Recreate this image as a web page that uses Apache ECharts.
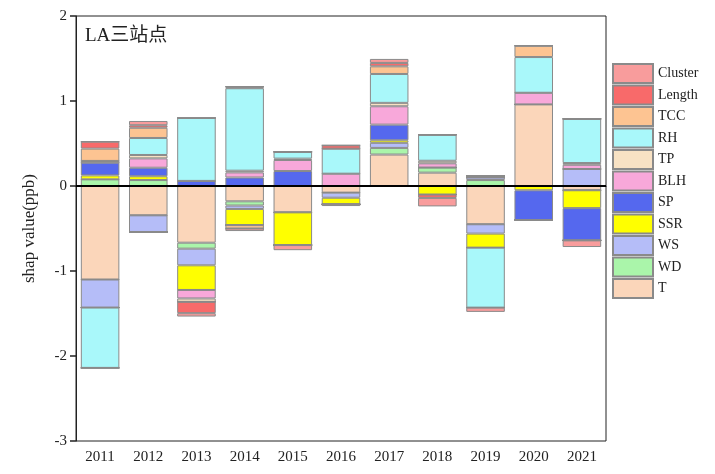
<!DOCTYPE html>
<html>
<head>
<meta charset="utf-8">
<script src="https://cdn.jsdelivr.net/npm/echarts@6/dist/echarts.min.js"></script>
<style>
  html, body { margin: 0; padding: 0; background: #fff; }
  #myChart { width: 715px; height: 474px; }
</style>
</head>
<body>
<div id="myChart"></div>
<script>
// categories and series (stack order from zero outward: T first, Cluster last)
const years = ['2011', '2012', '2013', '2014', '2015', '2016', '2017', '2018', '2019', '2020', '2021'];
const names = ['T', 'WD', 'WS', 'SSR', 'SP', 'BLH', 'TP', 'RH', 'TCC', 'Length', 'Cluster'];
const legendOrder = ['Cluster', 'Length', 'TCC', 'RH', 'TP', 'BLH', 'SP', 'SSR', 'WS', 'WD', 'T'];
const yTicks = [-3, -2, -1, 0, 1, 2];

// positive parts
const T_pos       = [0, 0, 0, 0, 0, 0, 0.37, 0.157, 0, 0.96, 0];
const WD_pos      = [0.078, 0.07, 0, 0, 0, 0, 0.078, 0.06, 0.07, 0, 0];
const WS_pos      = [0, 0, 0, 0, 0, 0, 0.06, 0, 0.03, 0, 0.2];
const SSR_pos     = [0.047, 0.045, 0, 0, 0, 0, 0.03, 0, 0, 0, 0];
const SP_pos      = [0.15, 0.1, 0.06, 0.1, 0.176, 0, 0.184, 0, 0, 0, 0];
const BLH_pos     = [0, 0.11, 0, 0.06, 0.13, 0.145, 0.216, 0.05, 0.02, 0.137, 0.05];
const TP_pos      = [0.02, 0.04, 0, 0.02, 0.016, 0, 0.04, 0.03, 0, 0, 0.02];
const RH_pos      = [0, 0.2, 0.74, 0.97, 0.08, 0.294, 0.34, 0.306, 0, 0.42, 0.52];
const TCC_pos     = [0.145, 0.12, 0, 0.01, 0, 0, 0.09, 0, 0, 0.133, 0];
const Length_pos  = [0.082, 0.03, 0, 0.01, 0, 0.04, 0.04, 0, 0, 0, 0];
const Cluster_pos = [0, 0.05, 0, 0, 0, 0, 0.047, 0, 0, 0, 0];

// negative parts
const T_neg       = [-1.1, -0.345, -0.667, -0.18, -0.31, -0.078, 0, 0, -0.45, 0, -0.05];
const WD_neg      = [0, 0, -0.07, -0.05, 0, 0, 0, 0, 0, 0, 0];
const WS_neg      = [-0.33, -0.196, -0.196, -0.04, 0, -0.06, 0, 0, -0.11, 0, 0];
const SSR_neg     = [0, 0, -0.29, -0.19, -0.385, -0.078, 0, -0.1, -0.165, -0.05, -0.21];
const SP_neg      = [0, 0, 0, 0, 0, 0, 0, 0, 0, -0.35, -0.38];
const BLH_neg     = [0, 0, -0.1, 0, 0, 0, 0, 0, 0, 0, 0];
const TP_neg      = [0, 0, -0.04, 0, 0, 0, 0, 0, 0, 0, 0];
const RH_neg      = [-0.71, 0, 0, 0, 0, 0, 0, 0, -0.706, 0, 0];
const TCC_neg     = [0, 0, 0, -0.04, 0, 0, 0, 0, 0, 0, 0];
const Length_neg  = [0, 0, -0.133, 0, 0, 0, 0, -0.04, 0, 0, 0];
const Cluster_neg = [0, 0, -0.04, -0.03, -0.06, -0.02, 0, -0.1, -0.05, 0, -0.078];

const posData = { T: T_pos, WD: WD_pos, WS: WS_pos, SSR: SSR_pos, SP: SP_pos, BLH: BLH_pos, TP: TP_pos, RH: RH_pos, TCC: TCC_pos, Length: Length_pos, Cluster: Cluster_pos };
const negData = { T: T_neg, WD: WD_neg, WS: WS_neg, SSR: SSR_neg, SP: SP_neg, BLH: BLH_neg, TP: TP_neg, RH: RH_neg, TCC: TCC_neg, Length: Length_neg, Cluster: Cluster_neg };

const colors = {
    T: '#FBD6BA', WD: '#AAF5AA', WS: '#B5BDF8', SSR: '#FFFF00', SP: '#5568EE', BLH: '#F8A8DA',
    TP: '#F8E2C4', RH: '#A9F8FA', TCC: '#FDC492', Length: '#F86A6A', Cluster: '#F89C9C'
};

const font = '"Liberation Serif", "Times New Roman", serif';

const series = [];
names.forEach(function (n) {
    // positives and negatives stacked separately, drawn in the same slot
    series.push({
        name: n,
        type: 'bar',
        stack: 'pos',
        barWidth: '80%',
        data: posData[n],
        itemStyle: { color: colors[n], borderColor: '#8a8a8a', borderWidth: 1 },
        emphasis: { disabled: true }
    });
    series.push({
        name: n,
        type: 'bar',
        stack: 'neg',
        barWidth: '80%',
        barGap: '-100%',
        data: negData[n],
        itemStyle: { color: colors[n], borderColor: '#8a8a8a', borderWidth: 1 },
        emphasis: { disabled: true }
    });
});

// zero line
series.push({
    type: 'line',
    data: [],
    silent: true,
    markLine: {
        silent: true,
        symbol: 'none',
        label: { show: false },
        lineStyle: { color: '#000', width: 2, type: 'solid' },
        data: [{ yAxis: 0 }]
    }
});

const myChart = echarts.init(document.getElementById('myChart'), null, { renderer: 'canvas' });

const option = {
    animation: false,
    backgroundColor: '#fff',
    title: {
        text: 'LA三站点',
        left: 80,
        top: 22,
        textStyle: { fontFamily: font + ', "Noto Sans CJK SC"', fontSize: 19, fontWeight: 'normal', color: '#222' }
    },
    legend: {
        data: legendOrder,
        orient: 'vertical',
        left: 607,
        top: 58,
        icon: 'rect',
        itemWidth: 40,
        itemHeight: 19,
        itemGap: 0.5,
        textStyle: { fontFamily: font, fontSize: 14, color: '#222', lineHeight: 14 },
        selectedMode: false
    },
    grid: {
        left: 76, right: 109, top: 16, bottom: 33,
        show: true, borderColor: '#222', borderWidth: 1
    },
    xAxis: {
        type: 'category',
        data: years,
        axisLine: { lineStyle: { color: '#222', width: 1 } },
        axisTick: { alignWithLabel: true, length: 5, lineStyle: { color: '#222', width: 2 } },
        axisLabel: { fontFamily: font, fontSize: 15, color: '#222', margin: 9 }
    },
    yAxis: {
        type: 'value',
        min: yTicks[0],
        max: yTicks[yTicks.length - 1],
        interval: 1,
        name: 'shap value(ppb)',
        nameLocation: 'middle',
        nameGap: 38,
        nameTextStyle: { fontFamily: font, fontSize: 17, color: '#222' },
        axisLine: { show: true, lineStyle: { color: '#222', width: 1 } },
        axisTick: { show: true, length: 6, lineStyle: { color: '#222', width: 1.5 } },
        axisLabel: { fontFamily: font, fontSize: 15, color: '#222', margin: 9 },
        splitLine: { show: false }
    },
    series: series
};

myChart.setOption(option);
</script>
</body>
</html>
